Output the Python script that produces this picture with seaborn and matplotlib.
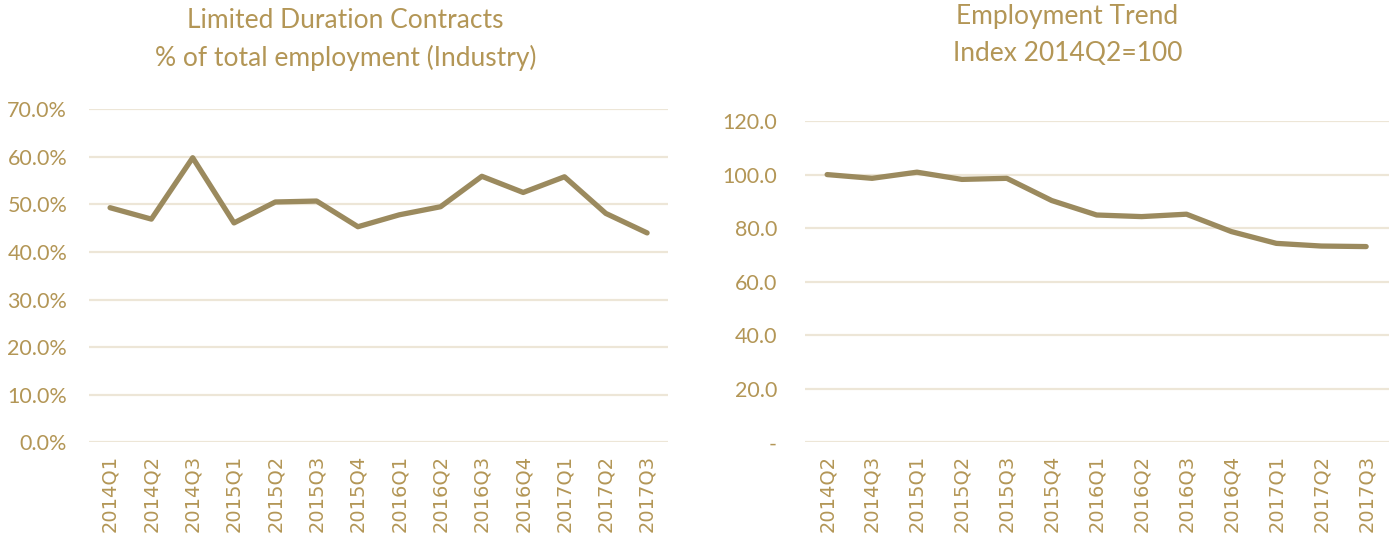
import matplotlib
matplotlib.use("Agg")
import matplotlib.pyplot as plt
from matplotlib.ticker import FuncFormatter, MultipleLocator
import seaborn as sns
import pandas as pd

# Data
ldc_quarters = ["2014Q1", "2014Q2", "2014Q3", "2015Q1", "2015Q2", "2015Q3", "2015Q4",
                "2016Q1", "2016Q2", "2016Q3", "2016Q4", "2017Q1", "2017Q2", "2017Q3"]
ldc_share = [0.493, 0.469, 0.598, 0.461, 0.505, 0.507, 0.453,
             0.478, 0.495, 0.559, 0.525, 0.558, 0.481, 0.440]

emp_quarters = ["2014Q2", "2014Q3", "2015Q1", "2015Q2", "2015Q3", "2015Q4",
                "2016Q1", "2016Q2", "2016Q3", "2016Q4", "2017Q1", "2017Q2", "2017Q3"]
emp_index = [100.0, 98.6, 100.9, 98.2, 98.6, 90.3, 84.9, 84.3, 85.2, 78.7, 74.3, 73.3, 73.1]

left_title = "Limited Duration Contracts\n% of total employment (Industry)"
right_title = "Employment Trend\nIndex 2014Q2=100"

sns.set_theme(style="white")
plt.rcParams['font.family'] = ['Lato', 'DejaVu Sans']

TEXT = "#B39656"
LINE = "#9B8A5E"
GRID = "#EDE6D7"

fig = plt.figure(figsize=(13.97, 5.38), dpi=100)
ax1 = fig.add_axes([0.064, 0.178, 0.414, 0.619])
ax2 = fig.add_axes([0.576, 0.178, 0.418, 0.597])

df1 = pd.DataFrame({"q": ldc_quarters, "v": ldc_share})
df2 = pd.DataFrame({"q": emp_quarters, "v": emp_index})

for ax, df in [(ax1, df1), (ax2, df2)]:
    sns.lineplot(data=df, x="q", y="v", ax=ax, color=LINE, linewidth=3.8,
                 sort=False, solid_capstyle="round", solid_joinstyle="round", zorder=3)
    ax.set_xlabel("")
    ax.set_ylabel("")
    for s in ax.spines.values():
        s.set_visible(False)
    ax.grid(axis="y", color=GRID, linewidth=1.6, zorder=0)
    ax.grid(axis="x", visible=False)
    ax.tick_params(axis="both", length=0)
    ax.tick_params(axis="x", rotation=90, labelsize=14, labelcolor=TEXT, pad=9)
    ax.tick_params(axis="y", labelsize=15.5, labelcolor=TEXT)
    for lbl in ax.get_xticklabels():
        lbl.set_family(['DejaVu Sans'])

ax1.set_xlim(-0.5, len(ldc_quarters) - 0.5)
ax1.set_ylim(0, 0.70)
ax1.yaxis.set_major_locator(MultipleLocator(0.10))
ax1.yaxis.set_major_formatter(FuncFormatter(lambda v, p: f"{v*100:.1f}%"))
ax1.tick_params(axis="y", pad=16)

ax2.set_xlim(-0.5, len(emp_quarters) - 0.5)
ax2.set_ylim(0, 120)
ax2.yaxis.set_major_locator(MultipleLocator(20))
ax2.yaxis.set_major_formatter(FuncFormatter(lambda v, p: "-" if abs(v) < 1e-9 else f"{v:.1f}"))
ax2.tick_params(axis="y", pad=20)

fig.text(0.2473, 0.985, left_title, ha="center", va="top", color=TEXT,
         fontsize=19, linespacing=1.57)
fig.text(0.764, 0.992, right_title, ha="center", va="top", color=TEXT,
         fontsize=19, linespacing=1.57)

fig.savefig("out.png", dpi=100)
